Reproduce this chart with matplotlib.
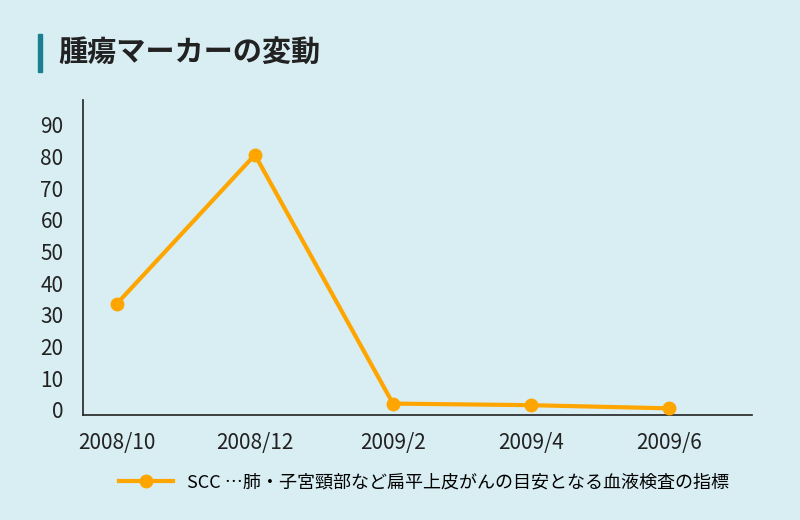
import matplotlib
matplotlib.use("Agg")
import matplotlib.pyplot as plt
from matplotlib.lines import Line2D

plt.rcParams['font.family'] = ['Noto Sans CJK JP', 'DejaVu Sans']

categories = ["2008/10", "2008/12", "2009/2", "2009/4", "2009/6"]
values = [33.5, 80.5, 2.0, 1.5, 0.5]
yticks = [0, 10, 20, 30, 40, 50, 60, 70, 80, 90]
title = "腫瘍マーカーの変動"
legend_label = "SCC …肺・子宮頸部など扁平上皮がんの目安となる血液検査の指標"

bg = "#d8eef3"
orange = "#ffa500"
fig = plt.figure(figsize=(8, 5.2), dpi=100, facecolor=bg)
ax = fig.add_axes([83/800, 1-415/520, (752-83)/800, (415-100)/520], facecolor=bg)
x = list(range(len(categories)))
ax.plot(x, values, color=orange, lw=3, marker='o', ms=9, zorder=3)
ax.set_xlim(-0.245, 4.6)
ax.set_ylim(-1.6, 97.8)
ax.set_xticks(x)
ax.set_xticklabels(categories, fontsize=15, color="#222222")
ax.set_yticks(yticks)
ax.set_yticklabels([str(v) for v in yticks], fontsize=15, color="#222222")
ax.tick_params(length=0, pad=12)
ax.tick_params(axis='y', pad=14)
for s in ['top', 'right']:
    ax.spines[s].set_visible(False)
for s in ['left', 'bottom']:
    ax.spines[s].set_color("#222222")
    ax.spines[s].set_linewidth(1.2)

fig.patches.append(plt.Rectangle((38/800, 1-72/520), 4/800, 38/520,
                                 transform=fig.transFigure, color="#1a7f8e"))
fig.text(58/800, 1-52/520, title, fontsize=21, fontweight='bold', va='center', color="#222222")

h = Line2D([], [], color=orange, lw=3, marker='o', ms=9)
fig.legend([h], [legend_label], loc='center', bbox_to_anchor=(0.53, 1-482/520),
           frameon=False, fontsize=13, handlelength=3)
fig.savefig("out.png", facecolor=bg)
